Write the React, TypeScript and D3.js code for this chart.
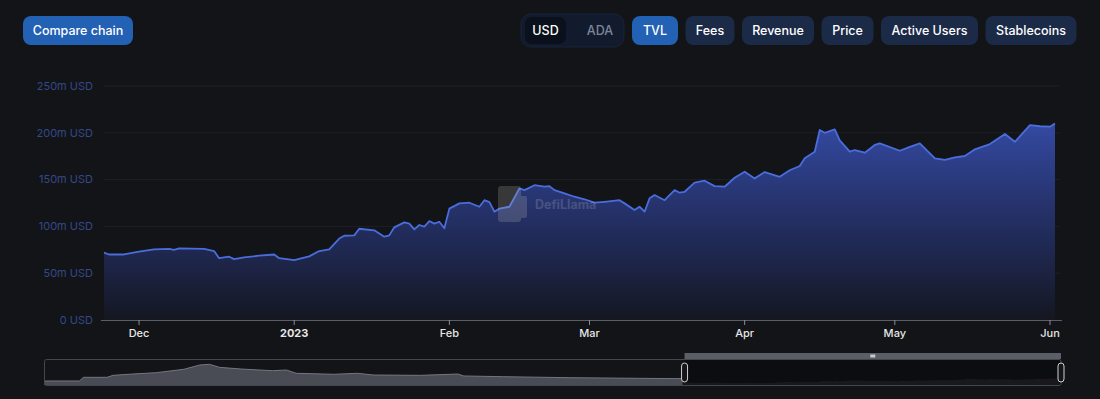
import * as d3 from "d3";
import React from "react";

// TVL series, millions USD
const dates = [
  "2022-11-24", "2022-11-25", "2022-11-28", "2022-12-01", "2022-12-04", "2022-12-07", "2022-12-08",
  "2022-12-09", "2022-12-14", "2022-12-16", "2022-12-17", "2022-12-19", "2022-12-20", "2022-12-22",
  "2022-12-25", "2022-12-28", "2022-12-29", "2023-01-01", "2023-01-04", "2023-01-06", "2023-01-08",
  "2023-01-10", "2023-01-11", "2023-01-13", "2023-01-14", "2023-01-17", "2023-01-19", "2023-01-20",
  "2023-01-21", "2023-01-23", "2023-01-24", "2023-01-25", "2023-01-26", "2023-01-27", "2023-01-28",
  "2023-01-29", "2023-01-30", "2023-01-31", "2023-02-01", "2023-02-03", "2023-02-05", "2023-02-07",
  "2023-02-08", "2023-02-09", "2023-02-10", "2023-02-11", "2023-02-13", "2023-02-15", "2023-02-16",
  "2023-02-18", "2023-02-20", "2023-02-21", "2023-02-22", "2023-02-24", "2023-02-26", "2023-02-28",
  "2023-03-02", "2023-03-04", "2023-03-07", "2023-03-08", "2023-03-10", "2023-03-11", "2023-03-12",
  "2023-03-13", "2023-03-14", "2023-03-16", "2023-03-18", "2023-03-19", "2023-03-20", "2023-03-22",
  "2023-03-24", "2023-03-26", "2023-03-28", "2023-03-30", "2023-04-01", "2023-04-03", "2023-04-05",
  "2023-04-08", "2023-04-10", "2023-04-12", "2023-04-13", "2023-04-15", "2023-04-16", "2023-04-17",
  "2023-04-19", "2023-04-20", "2023-04-22", "2023-04-23", "2023-04-25", "2023-04-27", "2023-04-28",
  "2023-05-02", "2023-05-04", "2023-05-06", "2023-05-09", "2023-05-11", "2023-05-13", "2023-05-15",
  "2023-05-17", "2023-05-20", "2023-05-23", "2023-05-25", "2023-05-28", "2023-05-30", "2023-06-01",
  "2023-06-02",
];
const tvl = [
  72, 70, 70, 73, 75.5, 76, 75,
  76.5, 76, 73.7, 66, 67.6, 65, 67,
  68.7, 70, 66, 64, 68, 73.7, 75.5,
  87, 90, 90.4, 97.5, 95.8, 89, 90.4,
  99, 104.3, 103, 96.8, 101.5, 99.7, 105.7,
  103, 105, 98, 119, 124.6, 125.3, 121,
  128, 126, 115.7, 119, 121, 140.6, 138.8,
  144, 142.4, 143, 138.8, 135.3, 131.7, 129,
  125.3, 126.3, 128, 124.6, 117.5, 121, 115.7,
  130, 133.5, 128, 138.8, 136, 137, 146.7,
  148.8, 143, 142.4, 152, 158.4, 151.3, 158,
  153, 160, 164.5, 172.7, 179.8, 203, 200,
  203.6, 192, 179.8, 181.6, 178.7, 187, 188.7,
  180.8, 185, 188.7, 172.7, 171, 173.8, 175.2,
  182.3, 188, 198.7, 190.4, 208.3, 207, 206.5,
  210,
];

// full history shown in the zoom slider, millions USD
const miniDates = [
  "2022-01-03", "2022-01-21", "2022-01-23", "2022-02-04", "2022-02-07", "2022-02-17", "2022-03-01",
  "2022-03-15", "2022-03-23", "2022-03-28", "2022-04-02", "2022-04-13", "2022-04-29", "2022-05-06",
  "2022-05-11", "2022-05-30", "2022-06-11", "2022-06-19", "2022-07-13", "2022-08-01", "2022-08-04",
  "2022-08-24", "2022-09-27", "2022-10-31", "2022-11-23",
];
const miniTvl = [
  45, 45, 86, 86, 108, 123, 138,
  176, 224, 232, 198, 179, 160, 168,
  131, 120, 131, 112, 108, 123, 101,
  93, 82, 75, 71,
];

const yTicks = [0, 50, 100, 150, 200, 250];
const xTickDates = ["2022-12-01", "2023-01-01", "2023-02-01", "2023-03-01", "2023-04-01", "2023-05-01", "2023-06-01"];
const xTickLabels = ["Dec", "2023", "Feb", "Mar", "Apr", "May", "Jun"];
const metricButtons = ["TVL", "Fees", "Revenue", "Price", "Active Users", "Stablecoins"];
const metricWidths = [46, 49, 72, 52, 97, 91];

const parse = d3.timeParse("%Y-%m-%d");
const font = "Inter, 'Noto Sans', sans-serif";

export default function App() {
  const W = 1100;
  const H = 399;

  const data = dates.map((d, i) => ({ date: parse(d) as Date, value: tvl[i] }));
  const miniData = miniDates.map((d, i) => ({ date: parse(d) as Date, value: miniTvl[i] }));

  const x = d3.scaleTime().domain([parse("2022-11-24") as Date, parse("2023-06-03") as Date]).range([104, 1060]);
  const y = d3.scaleLinear().domain([0, 250]).range([320, 86]);

  const line = d3.line<any>().x((d) => x(d.date)).y((d) => y(d.value));
  const area = d3.area<any>().x((d) => x(d.date)).y0(y(0)).y1((d) => y(d.value));

  const xm = d3.scaleTime().domain([parse("2022-01-03") as Date, parse("2023-06-03") as Date]).range([44, 1061]);
  const ym = d3.scaleLinear().domain([0, 280]).range([385, 360]);
  const miniLine = d3.line<any>().x((d) => xm(d.date)).y((d) => ym(d.value));
  const miniArea = d3.area<any>().x((d) => xm(d.date)).y0(ym(0)).y1((d) => ym(d.value));

  const winX0 = xm(x.domain()[0]);
  const winX1 = xm(x.domain()[1]);

  let bx = 632;
  const buttons = metricButtons.map((label, i) => {
    const b = { label, x: bx, w: metricWidths[i] };
    bx += metricWidths[i] + 7.5;
    return b;
  });

  return (
    <div style={{ position: "fixed", left: 0, top: 0, width: W, height: H, background: "#131417" }}>
      <svg width={W} height={H} style={{ display: "block", fontFamily: font }}>
        <defs>
          <linearGradient id="tvlFill" gradientUnits="userSpaceOnUse" x1="0" y1={y(250)} x2="0" y2={y(0)}>
            <stop offset="0%" stopColor="#3d58c4" stopOpacity={0.95} />
            <stop offset="55%" stopColor="#26336f" stopOpacity={0.9} />
            <stop offset="100%" stopColor="#141620" stopOpacity={1} />
          </linearGradient>
        </defs>
        <rect width={W} height={H} fill="#131417" />

        {/* header buttons */}
        <rect x={23} y={16} width={110} height={29} rx={8} fill="#2361b4" />
        <text x={78} y={30.5} dy="0.35em" textAnchor="middle" fontSize={12.5} fontWeight={500} fill="#fff">
          Compare chain
        </text>

        <rect x={521} y={14} width={103} height={33} rx={10} fill="#111b2d" stroke="#18243a" />
        <rect x={525} y={17} width={41} height={27} rx={7} fill="#0a111d" />
        <text x={545.5} y={30.5} dy="0.35em" textAnchor="middle" fontSize={12.5} fontWeight={500} fill="#fff">USD</text>
        <text x={600} y={30.5} dy="0.35em" textAnchor="middle" fontSize={12.5} fontWeight={500} fill="#7e879a">ADA</text>

        {buttons.map((b, i) => (
          <g key={b.label}>
            <rect x={b.x} y={16} width={b.w} height={29} rx={8} fill={i === 0 ? "#2361b4" : "#1b2a47"} />
            <text x={b.x + b.w / 2} y={30.5} dy="0.35em" textAnchor="middle" fontSize={12.5} fontWeight={500} fill="#fff">
              {b.label}
            </text>
          </g>
        ))}

        {/* grid + y axis */}
        {yTicks.map((t) => (
          <g key={t}>
            {t > 0 && <line x1={104} x2={1060} y1={y(t)} y2={y(t)} stroke="#1e2026" />}
            <text x={93} y={y(t)} dy="0.35em" textAnchor="end" fontSize={11} fill="#34488a">
              {t === 0 ? "0 USD" : `${t}m USD`}
            </text>
          </g>
        ))}

        {/* series */}
        <path d={area(data) || ""} fill="url(#tvlFill)" />
        <path d={line(data) || ""} fill="none" stroke="#4a6ddd" strokeWidth={1.8} strokeLinejoin="round" />

        {/* watermark */}
        <g opacity={0.2}>
          <rect x={498} y={186} width={23} height={36} rx={3} fill="#c9c9b8" />
          <rect x={519} y={196} width={8} height={22} rx={2} fill="#c9c9b8" />
          <text x={535} y={205} dy="0.35em" fontSize={12.5} fontWeight={700} fill="#d0d0d0">DefiLlama</text>
        </g>

        {/* x axis */}
        <line x1={101} x2={1062} y1={320.5} y2={320.5} stroke="#5b5e66" />
        {xTickDates.map((d, i) => {
          const px = x(parse(d) as Date);
          return (
            <g key={d}>
              <line x1={px} x2={px} y1={320} y2={325} stroke="#8a8d94" />
              <text x={px} y={333} dy="0.35em" textAnchor="middle" fontSize={11}
                fontWeight={xTickLabels[i] === "2023" ? 700 : 500} fill="#e6e6e6">
                {xTickLabels[i]}
              </text>
            </g>
          );
        })}

        {/* data zoom slider */}
        <path d={miniArea(miniData) || ""} fill="#4a4c55" />
        <path d={miniLine(miniData) || ""} fill="none" stroke="#737680" strokeWidth={1} />
        <rect x={winX0} y={359.5} width={winX1 - winX0} height={26} fill="#0c0d10" />
        <path d={miniArea(data.map((d) => ({ date: d.date, value: d.value * 0.35 }))) || ""} fill="#3a3c44" opacity={0.25} />
        <rect x={44.5} y={359.5} width={1016.5} height={26} rx={2} fill="none" stroke="#44474f" />
        <rect x={winX0} y={353} width={winX1 - winX0} height={6} fill="#5a5e67" />
        <rect x={(winX0 + winX1) / 2 - 2.5} y={354.5} width={5} height={3} fill="#c8c8c8" />
        {[winX0, winX1].map((hx, i) => (
          <rect key={i} x={hx - 3} y={363} width={6} height={19} rx={3} fill="#15161a" stroke="#d0d0d0" strokeWidth={1} />
        ))}
      </svg>
    </div>
  );
}
